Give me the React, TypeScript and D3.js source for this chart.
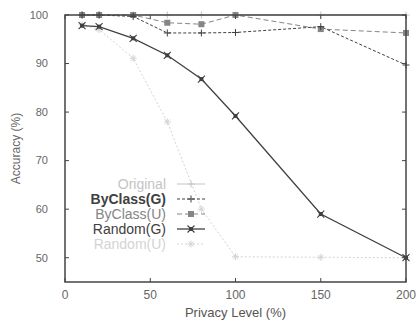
import React from 'react';
import * as d3 from 'd3';

const privacyLevels = [10, 20, 40, 60, 80, 100, 150, 200];
const seriesNames = ['Original', 'ByClass(G)', 'ByClass(U)', 'Random(G)', 'Random(U)'];
const original = [100, 100, 100, 100, 100, 100, 100, 100];
const byClassG = [100, 100, 99.7, 96.3, 96.3, 96.4, 97.6, 89.7];
const byClassU = [100, 100, 100, 98.4, 98.1, 100, 97.1, 96.3];
const randomG = [97.8, 97.6, 95.2, 91.7, 86.8, 79.2, 59.0, 50.0];
const randomU = [98.0, 97.0, 91.1, 78.0, 60.0, 50.2, 50.1, 50.0];
const xTicks = [0, 50, 100, 150, 200];
const yTicks = [50, 60, 70, 80, 90, 100];

const W = 416;
const H = 322;

type Style = { color: string; dash: string; marker: string; width: number };
const styles: Style[] = [
  { color: '#c4c4c4', dash: '', marker: 'plus', width: 1 },
  { color: '#404040', dash: '3,2', marker: 'plus', width: 1 },
  { color: '#858585', dash: '5,3', marker: 'square', width: 1 },
  { color: '#404040', dash: '', marker: 'cross', width: 1.3 },
  { color: '#d4d4d4', dash: '2,2', marker: 'star', width: 1 },
];

function Marker({ x, y, kind, color }: { x: number; y: number; kind: string; color: string }) {
  const s = 3.5;
  if (kind === 'plus') {
    return <path d={`M${x - s},${y}H${x + s}M${x},${y - s}V${y + s}`} stroke={color} strokeWidth={1} />;
  }
  if (kind === 'square') {
    return <rect x={x - 3} y={y - 3} width={6} height={6} fill={color} />;
  }
  if (kind === 'cross') {
    return (
      <g>
        <path d={`M${x - s},${y - s}L${x + s},${y + s}M${x - s},${y + s}L${x + s},${y - s}`} stroke={color} strokeWidth={1.1} />
        <rect x={x - 2} y={y - 2} width={4} height={4} fill={color} />
      </g>
    );
  }
  return (
    <path
      d={`M${x - s},${y}H${x + s}M${x},${y - s}V${y + s}M${x - 2.5},${y - 2.5}L${x + 2.5},${y + 2.5}M${x - 2.5},${y + 2.5}L${x + 2.5},${y - 2.5}`}
      stroke={color}
      strokeWidth={1}
    />
  );
}

const App: React.FC = () => {
  const x = d3.scaleLinear().domain([0, 200]).range([65, 406]);
  const y = d3.scaleLinear().domain([45, 100]).range([282, 15]);
  const [x0, x1] = x.range();
  const [y0, y1] = y.range();
  const allSeries = [original, byClassG, byClassU, randomG, randomU];
  const line = d3
    .line<number>()
    .x((_, i) => x(privacyLevels[i]))
    .y(d => y(d));

  const font = '"Liberation Sans", Arial, sans-serif';
  const legendRight = 166;
  const legendTop = 184;

  return (
    <svg width={W} height={H} style={{ position: 'absolute', left: 0, top: 0, background: '#fff' }} fontFamily={font}>
      {/* series, drawn back to front */}
      {[4, 0, 2, 1, 3].map(si => (
        <g key={si}>
          <path
            d={line(allSeries[si]) ?? ''}
            fill="none"
            stroke={styles[si].color}
            strokeWidth={styles[si].width}
            strokeDasharray={styles[si].dash}
          />
          {allSeries[si].map((v, i) => (
            <Marker key={i} x={x(privacyLevels[i])} y={y(v)} kind={styles[si].marker} color={styles[si].color} />
          ))}
        </g>
      ))}

      {/* frame */}
      <rect x={x0} y={y1} width={x1 - x0} height={y0 - y1} fill="none" stroke="#444" strokeWidth={1.5} />

      {/* x ticks */}
      {xTicks.map(t => (
        <g key={t}>
          <line x1={x(t)} x2={x(t)} y1={y0} y2={y0 - 4} stroke="#444" />
          <line x1={x(t)} x2={x(t)} y1={y1} y2={y1 + 4} stroke="#444" />
          <text x={x(t)} y={y0 + 17} textAnchor="middle" fontSize={12} fill="#666">
            {t}
          </text>
        </g>
      ))}
      {/* y ticks */}
      {yTicks.map(t => (
        <g key={t}>
          <line x1={x0} x2={x0 + 4} y1={y(t)} y2={y(t)} stroke="#444" />
          <line x1={x1} x2={x1 - 4} y1={y(t)} y2={y(t)} stroke="#444" />
          <text x={48} y={y(t)} dy="0.35em" textAnchor="end" fontSize={11} fill="#666">
            {t}
          </text>
        </g>
      ))}

      <text x={(x0 + x1) / 2} y={312} dy="0.35em" textAnchor="middle" fontSize={13} fill="#555">
        Privacy Level (%)
      </text>
      <text transform={`translate(16,${(y0 + y1) / 2}) rotate(-90)`} dy="0.35em" textAnchor="middle" fontSize={12} fill="#666">
        Accuracy (%)
      </text>

      {/* legend */}
      {seriesNames.map((name, i) => {
        const ly = legendTop + i * 15;
        const s = styles[i];
        return (
          <g key={name}>
            <text x={legendRight} y={ly} dy="0.35em" textAnchor="end" fontSize={14} fill={s.color} fontWeight={i === 1 ? 'bold' : 'normal'}>
              {name}
            </text>
            <line x1={177} x2={205} y1={ly} y2={ly} stroke={s.color} strokeWidth={s.width} strokeDasharray={s.dash} />
            <Marker x={191} y={ly} kind={s.marker} color={s.color} />
          </g>
        );
      })}
    </svg>
  );
};

export default App;
